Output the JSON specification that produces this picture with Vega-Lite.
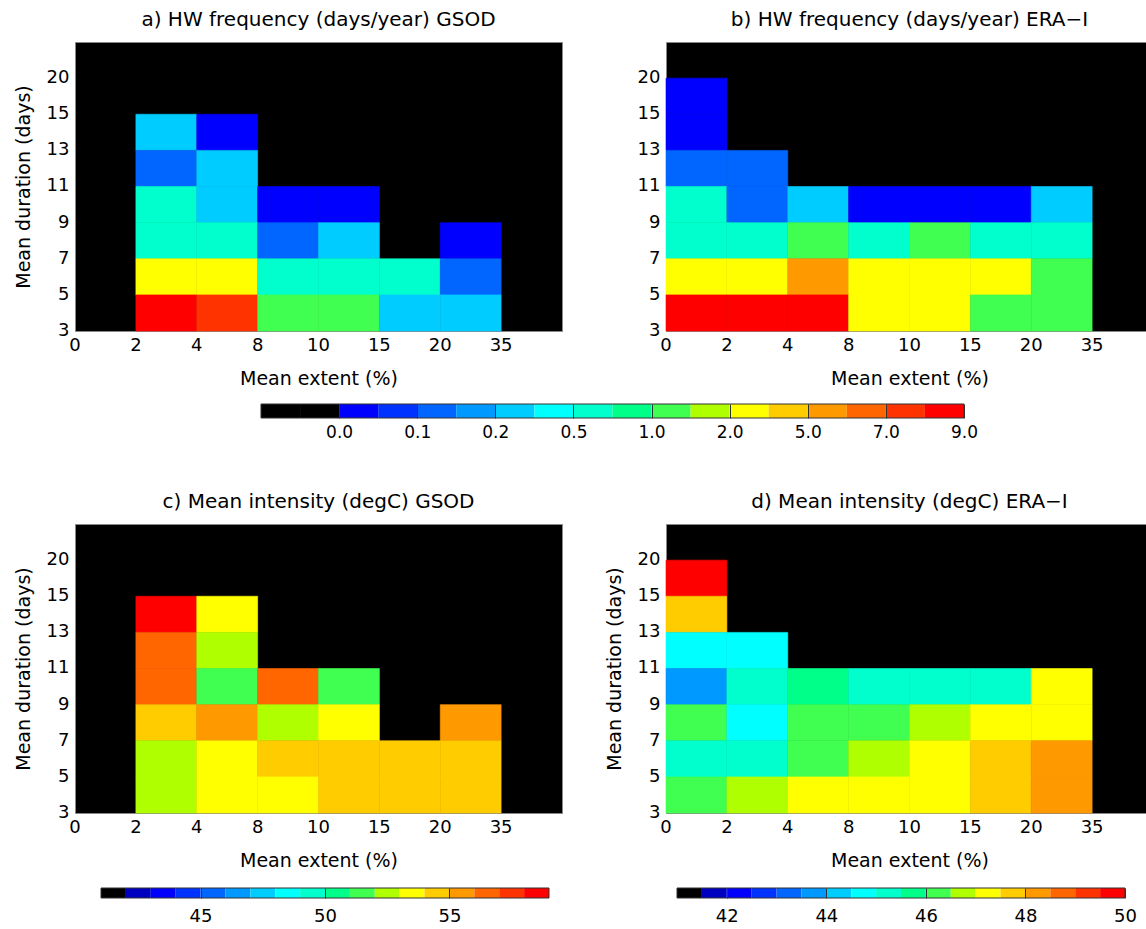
{
  "$schema": "https://vega.github.io/schema/vega-lite/v6.json",
  "padding": {"left": 13, "top": 9, "right": 0, "bottom": 0},
  "config": {
    "font": "DejaVu Sans",
    "view": {"stroke": null},
    "title": {"fontSize": 20, "fontWeight": "normal", "offset": 12, "color": "black"},
    "axis": {"labelFontSize": 18, "titleFontSize": 19, "titleFontWeight": "normal", "labelColor": "black", "titleColor": "black", "ticks": false, "domain": false, "grid": false}
  },
  "datasets": {
    "cells": [
      {"p":"a","ext":2,"dur":13,"v":0.3},{"p":"a","ext":4,"dur":13,"v":0.03},
      {"p":"a","ext":2,"dur":11,"v":0.12},{"p":"a","ext":4,"dur":11,"v":0.3},
      {"p":"a","ext":2,"dur":9,"v":0.6},{"p":"a","ext":4,"dur":9,"v":0.3},{"p":"a","ext":8,"dur":9,"v":0.03},{"p":"a","ext":10,"dur":9,"v":0.03},
      {"p":"a","ext":2,"dur":7,"v":0.6},{"p":"a","ext":4,"dur":7,"v":0.6},{"p":"a","ext":8,"dur":7,"v":0.12},{"p":"a","ext":10,"dur":7,"v":0.3},{"p":"a","ext":20,"dur":7,"v":0.03},
      {"p":"a","ext":2,"dur":5,"v":3.0},{"p":"a","ext":4,"dur":5,"v":3.0},{"p":"a","ext":8,"dur":5,"v":0.6},{"p":"a","ext":10,"dur":5,"v":0.6},{"p":"a","ext":15,"dur":5,"v":0.6},{"p":"a","ext":20,"dur":5,"v":0.12},
      {"p":"a","ext":2,"dur":3,"v":8.5},{"p":"a","ext":4,"dur":3,"v":7.5},{"p":"a","ext":8,"dur":3,"v":1.2},{"p":"a","ext":10,"dur":3,"v":1.2},{"p":"a","ext":15,"dur":3,"v":0.3},{"p":"a","ext":20,"dur":3,"v":0.3},

      {"p":"b","ext":0,"dur":15,"v":0.03},{"p":"b","ext":0,"dur":13,"v":0.03},
      {"p":"b","ext":0,"dur":11,"v":0.12},{"p":"b","ext":2,"dur":11,"v":0.12},
      {"p":"b","ext":0,"dur":9,"v":0.6},{"p":"b","ext":2,"dur":9,"v":0.12},{"p":"b","ext":4,"dur":9,"v":0.3},{"p":"b","ext":8,"dur":9,"v":0.03},{"p":"b","ext":10,"dur":9,"v":0.03},{"p":"b","ext":15,"dur":9,"v":0.03},{"p":"b","ext":20,"dur":9,"v":0.3},
      {"p":"b","ext":0,"dur":7,"v":0.6},{"p":"b","ext":2,"dur":7,"v":0.6},{"p":"b","ext":4,"dur":7,"v":1.2},{"p":"b","ext":8,"dur":7,"v":0.6},{"p":"b","ext":10,"dur":7,"v":1.2},{"p":"b","ext":15,"dur":7,"v":0.6},{"p":"b","ext":20,"dur":7,"v":0.6},
      {"p":"b","ext":0,"dur":5,"v":3.0},{"p":"b","ext":2,"dur":5,"v":3.0},{"p":"b","ext":4,"dur":5,"v":5.5},{"p":"b","ext":8,"dur":5,"v":3.0},{"p":"b","ext":10,"dur":5,"v":3.0},{"p":"b","ext":15,"dur":5,"v":3.0},{"p":"b","ext":20,"dur":5,"v":1.2},
      {"p":"b","ext":0,"dur":3,"v":8.5},{"p":"b","ext":2,"dur":3,"v":8.5},{"p":"b","ext":4,"dur":3,"v":8.5},{"p":"b","ext":8,"dur":3,"v":3.0},{"p":"b","ext":10,"dur":3,"v":3.0},{"p":"b","ext":15,"dur":3,"v":1.2},{"p":"b","ext":20,"dur":3,"v":1.2},

      {"p":"c","ext":2,"dur":13,"v":58.5},{"p":"c","ext":4,"dur":13,"v":53.5},
      {"p":"c","ext":2,"dur":11,"v":56.5},{"p":"c","ext":4,"dur":11,"v":52.5},
      {"p":"c","ext":2,"dur":9,"v":56.5},{"p":"c","ext":4,"dur":9,"v":51.5},{"p":"c","ext":8,"dur":9,"v":56.5},{"p":"c","ext":10,"dur":9,"v":51.5},
      {"p":"c","ext":2,"dur":7,"v":54.5},{"p":"c","ext":4,"dur":7,"v":55.5},{"p":"c","ext":8,"dur":7,"v":52.5},{"p":"c","ext":10,"dur":7,"v":53.5},{"p":"c","ext":20,"dur":7,"v":55.5},
      {"p":"c","ext":2,"dur":5,"v":52.5},{"p":"c","ext":4,"dur":5,"v":53.5},{"p":"c","ext":8,"dur":5,"v":54.5},{"p":"c","ext":10,"dur":5,"v":54.5},{"p":"c","ext":15,"dur":5,"v":54.5},{"p":"c","ext":20,"dur":5,"v":54.5},
      {"p":"c","ext":2,"dur":3,"v":52.5},{"p":"c","ext":4,"dur":3,"v":53.5},{"p":"c","ext":8,"dur":3,"v":53.5},{"p":"c","ext":10,"dur":3,"v":54.5},{"p":"c","ext":15,"dur":3,"v":54.5},{"p":"c","ext":20,"dur":3,"v":54.5},

      {"p":"d","ext":0,"dur":15,"v":49.75},{"p":"d","ext":0,"dur":13,"v":47.75},
      {"p":"d","ext":0,"dur":11,"v":44.75},{"p":"d","ext":2,"dur":11,"v":44.75},
      {"p":"d","ext":0,"dur":9,"v":43.75},{"p":"d","ext":2,"dur":9,"v":45.25},{"p":"d","ext":4,"dur":9,"v":45.75},{"p":"d","ext":8,"dur":9,"v":45.25},{"p":"d","ext":10,"dur":9,"v":45.25},{"p":"d","ext":15,"dur":9,"v":45.25},{"p":"d","ext":20,"dur":9,"v":47.25},
      {"p":"d","ext":0,"dur":7,"v":46.25},{"p":"d","ext":2,"dur":7,"v":44.75},{"p":"d","ext":4,"dur":7,"v":46.25},{"p":"d","ext":8,"dur":7,"v":46.25},{"p":"d","ext":10,"dur":7,"v":46.75},{"p":"d","ext":15,"dur":7,"v":47.25},{"p":"d","ext":20,"dur":7,"v":47.25},
      {"p":"d","ext":0,"dur":5,"v":45.25},{"p":"d","ext":2,"dur":5,"v":45.25},{"p":"d","ext":4,"dur":5,"v":46.25},{"p":"d","ext":8,"dur":5,"v":46.75},{"p":"d","ext":10,"dur":5,"v":47.25},{"p":"d","ext":15,"dur":5,"v":47.75},{"p":"d","ext":20,"dur":5,"v":48.25},
      {"p":"d","ext":0,"dur":3,"v":46.25},{"p":"d","ext":2,"dur":3,"v":46.75},{"p":"d","ext":4,"dur":3,"v":47.25},{"p":"d","ext":8,"dur":3,"v":47.25},{"p":"d","ext":10,"dur":3,"v":47.25},{"p":"d","ext":15,"dur":3,"v":47.75},{"p":"d","ext":20,"dur":3,"v":48.25}
    ],
    "segs": [
      {"i":0,"j":1},{"i":1,"j":2},{"i":2,"j":3},{"i":3,"j":4},{"i":4,"j":5},{"i":5,"j":6},
      {"i":6,"j":7},{"i":7,"j":8},{"i":8,"j":9},{"i":9,"j":10},{"i":10,"j":11},{"i":11,"j":12},
      {"i":12,"j":13},{"i":13,"j":14},{"i":14,"j":15},{"i":15,"j":16},{"i":16,"j":17},{"i":17,"j":18}
    ]
  },
  "resolve": {"scale": {"x": "independent", "y": "independent", "color": "independent"}},
  "spacing": 51,
  "vconcat": [
    {
      "spacing": 14,
      "resolve": {"scale": {"x": "independent", "y": "independent", "color": "independent"}},
      "vconcat": [
        {
          "spacing": 73,
          "resolve": {"scale": {"x": "independent", "y": "independent", "color": "independent", "stroke": "independent"}},
          "hconcat": [
            {
              "width": 487, "height": 289,
              "view": {"fill": "black", "stroke": "#888"},
              "title": "a) HW frequency (days/year) GSOD",
              "data": {"name": "cells"},
              "transform": [{"filter": "datum.p == 'a'"}],
              "mark": {"type": "rect", "strokeWidth": 0.6},
              "encoding": {
                "x": {"field": "ext", "type": "ordinal", "scale": {"domain": [0,2,4,8,10,15,20,35], "paddingInner": 0, "paddingOuter": 0}, "axis": {"title": "Mean extent (%)", "labelAngle": 0, "labelOffset": -30.44, "labelPadding": 5, "titlePadding": 15}},
                "y": {"field": "dur", "type": "ordinal", "scale": {"domain": [20,15,13,11,9,7,5,3], "paddingInner": 0, "paddingOuter": 0}, "axis": {"title": "Mean duration (days)", "labelOffset": 18.06, "labelPadding": 6, "titlePadding": 13}},
                "color": {"field": "v", "type": "quantitative", "legend": null, "scale": {"type": "threshold", "domain": [0.05,0.1,0.15,0.2,0.35,0.5,0.75,1,1.5,2,3.5,5,6,7,8], "range": ["#0000ff","#0033ff","#0066ff","#0099ff","#00ccff","#00ffff","#00ffcc","#00ff88","#40ff50","#b0ff00","#ffff00","#ffcc00","#ff9900","#ff6600","#ff3300","#ff0000"]}},
                "stroke": {"field": "v", "type": "quantitative", "legend": null, "scale": {"type": "threshold", "domain": [0.05,0.1,0.15,0.2,0.35,0.5,0.75,1,1.5,2,3.5,5,6,7,8], "range": ["#0000ff","#0033ff","#0066ff","#0099ff","#00ccff","#00ffff","#00ffcc","#00ff88","#40ff50","#b0ff00","#ffff00","#ffcc00","#ff9900","#ff6600","#ff3300","#ff0000"]}}
              }
            },
            {
              "width": 487, "height": 289,
              "view": {"fill": "black", "stroke": "#888"},
              "title": "b) HW frequency (days/year) ERA\u2212I",
              "data": {"name": "cells"},
              "transform": [{"filter": "datum.p == 'b'"}],
              "mark": {"type": "rect", "strokeWidth": 0.6},
              "encoding": {
                "x": {"field": "ext", "type": "ordinal", "scale": {"domain": [0,2,4,8,10,15,20,35], "paddingInner": 0, "paddingOuter": 0}, "axis": {"title": "Mean extent (%)", "labelAngle": 0, "labelOffset": -30.44, "labelPadding": 5, "titlePadding": 15}},
                "y": {"field": "dur", "type": "ordinal", "scale": {"domain": [20,15,13,11,9,7,5,3], "paddingInner": 0, "paddingOuter": 0}, "axis": {"title": null, "labelOffset": 18.06, "labelPadding": 6}},
                "color": {"field": "v", "type": "quantitative", "legend": null, "scale": {"type": "threshold", "domain": [0.05,0.1,0.15,0.2,0.35,0.5,0.75,1,1.5,2,3.5,5,6,7,8], "range": ["#0000ff","#0033ff","#0066ff","#0099ff","#00ccff","#00ffff","#00ffcc","#00ff88","#40ff50","#b0ff00","#ffff00","#ffcc00","#ff9900","#ff6600","#ff3300","#ff0000"]}},
                "stroke": {"field": "v", "type": "quantitative", "legend": null, "scale": {"type": "threshold", "domain": [0.05,0.1,0.15,0.2,0.35,0.5,0.75,1,1.5,2,3.5,5,6,7,8], "range": ["#0000ff","#0033ff","#0066ff","#0099ff","#00ccff","#00ffff","#00ffcc","#00ff88","#40ff50","#b0ff00","#ffff00","#ffcc00","#ff9900","#ff6600","#ff3300","#ff0000"]}}
              }
            }
          ]
        },
        {
          "width": 889, "height": 14,
          "layer": [
            {
              "data": {"name": "segs"},
              "mark": {"type": "rect"},
              "encoding": {
                "x": {"field": "i", "type": "quantitative", "scale": {"domain": [-4.762, 18], "nice": false, "zero": false}, "axis": {"title": null, "values": [2,4,6,8,10,12,14,16,18], "labelExpr": "['0.0','0.1','0.2','0.5','1.0','2.0','5.0','7.0','9.0'][datum.value/2-1]", "grid": true, "gridColor": "#333", "gridWidth": 1, "zindex": 1, "labelPadding": 6, "labelFontSize": 17, "labelFlush": false, "labelOverlap": false}},
                "x2": {"field": "j"},
                "color": {"field": "i", "type": "quantitative", "legend": null, "scale": {"type": "threshold", "domain": [1,2,3,4,5,6,7,8,9,10,11,12,13,14,15,16,17], "range": ["#000000","#000000","#0000ff","#0033ff","#0066ff","#0099ff","#00ccff","#00ffff","#00ffcc","#00ff88","#40ff50","#b0ff00","#ffff00","#ffcc00","#ff9900","#ff6600","#ff3300","#ff0000"]}}
              }
            },
            {
              "data": {"values": [{}]},
              "mark": {"type": "rect", "fillOpacity": 0, "stroke": "#333", "strokeWidth": 1},
              "encoding": {"x": {"datum": 0}, "x2": {"datum": 18}}
            }
          ]
        }
      ]
    },
    {
      "spacing": 16,
      "resolve": {"scale": {"x": "independent", "y": "independent", "color": "independent"}},
      "vconcat": [
        {
          "spacing": 41,
          "resolve": {"scale": {"x": "independent", "y": "independent", "color": "independent", "stroke": "independent"}},
          "hconcat": [
            {
              "width": 487, "height": 289,
              "view": {"fill": "black", "stroke": "#888"},
              "title": "c) Mean intensity (degC) GSOD",
              "data": {"name": "cells"},
              "transform": [{"filter": "datum.p == 'c'"}],
              "mark": {"type": "rect", "strokeWidth": 0.6},
              "encoding": {
                "x": {"field": "ext", "type": "ordinal", "scale": {"domain": [0,2,4,8,10,15,20,35], "paddingInner": 0, "paddingOuter": 0}, "axis": {"title": "Mean extent (%)", "labelAngle": 0, "labelOffset": -30.44, "labelPadding": 5, "titlePadding": 15}},
                "y": {"field": "dur", "type": "ordinal", "scale": {"domain": [20,15,13,11,9,7,5,3], "paddingInner": 0, "paddingOuter": 0}, "axis": {"title": "Mean duration (days)", "labelOffset": 18.06, "labelPadding": 6, "titlePadding": 13}},
                "color": {"field": "v", "type": "quantitative", "legend": null, "scale": {"type": "threshold", "domain": [43,44,45,46,47,48,49,50,51,52,53,54,55,56,57,58], "range": ["#0000c0","#0000ff","#0033ff","#0066ff","#0099ff","#00ccff","#00ffff","#00ffcc","#00ff88","#40ff50","#b0ff00","#ffff00","#ffcc00","#ff9900","#ff6600","#ff3300","#ff0000"]}},
                "stroke": {"field": "v", "type": "quantitative", "legend": null, "scale": {"type": "threshold", "domain": [43,44,45,46,47,48,49,50,51,52,53,54,55,56,57,58], "range": ["#0000c0","#0000ff","#0033ff","#0066ff","#0099ff","#00ccff","#00ffff","#00ffcc","#00ff88","#40ff50","#b0ff00","#ffff00","#ffcc00","#ff9900","#ff6600","#ff3300","#ff0000"]}}
              }
            },
            {
              "width": 487, "height": 289,
              "view": {"fill": "black", "stroke": "#888"},
              "title": "d) Mean intensity (degC) ERA\u2212I",
              "data": {"name": "cells"},
              "transform": [{"filter": "datum.p == 'd'"}],
              "mark": {"type": "rect", "strokeWidth": 0.6},
              "encoding": {
                "x": {"field": "ext", "type": "ordinal", "scale": {"domain": [0,2,4,8,10,15,20,35], "paddingInner": 0, "paddingOuter": 0}, "axis": {"title": "Mean extent (%)", "labelAngle": 0, "labelOffset": -30.44, "labelPadding": 5, "titlePadding": 15}},
                "y": {"field": "dur", "type": "ordinal", "scale": {"domain": [20,15,13,11,9,7,5,3], "paddingInner": 0, "paddingOuter": 0}, "axis": {"title": "Mean duration (days)", "labelOffset": 18.06, "labelPadding": 6, "titlePadding": 13}},
                "color": {"field": "v", "type": "quantitative", "legend": null, "scale": {"type": "threshold", "domain": [42,42.5,43,43.5,44,44.5,45,45.5,46,46.5,47,47.5,48,48.5,49,49.5], "range": ["#0000c0","#0000ff","#0033ff","#0066ff","#0099ff","#00ccff","#00ffff","#00ffcc","#00ff88","#40ff50","#b0ff00","#ffff00","#ffcc00","#ff9900","#ff6600","#ff3300","#ff0000"]}},
                "stroke": {"field": "v", "type": "quantitative", "legend": null, "scale": {"type": "threshold", "domain": [42,42.5,43,43.5,44,44.5,45,45.5,46,46.5,47,47.5,48,48.5,49,49.5], "range": ["#0000c0","#0000ff","#0033ff","#0066ff","#0099ff","#00ccff","#00ffff","#00ffcc","#00ff88","#40ff50","#b0ff00","#ffff00","#ffcc00","#ff9900","#ff6600","#ff3300","#ff0000"]}}
              }
            }
          ]
        },
        {
          "spacing": 126,
          "resolve": {"scale": {"x": "independent", "y": "independent", "color": "independent"}},
          "hconcat": [
            {
              "width": 474, "height": 10,
              "layer": [
                {
                  "data": {"name": "segs"},
                  "mark": {"type": "rect"},
                  "encoding": {
                    "x": {"field": "i", "type": "quantitative", "scale": {"domain": [-1.045, 18], "nice": false, "zero": false}, "axis": {"title": null, "values": [4,9,14], "labelExpr": "datum.value + 41", "grid": true, "gridColor": "#333", "gridWidth": 1, "zindex": 1, "labelPadding": 9, "labelFontSize": 18, "labelFlush": false, "labelOverlap": false}},
                    "x2": {"field": "j"},
                    "color": {"field": "i", "type": "quantitative", "legend": null, "scale": {"type": "threshold", "domain": [1,2,3,4,5,6,7,8,9,10,11,12,13,14,15,16,17], "range": ["#000000","#0000c0","#0000ff","#0033ff","#0066ff","#0099ff","#00ccff","#00ffff","#00ffcc","#00ff88","#40ff50","#b0ff00","#ffff00","#ffcc00","#ff9900","#ff6600","#ff3300","#ff0000"]}}
                  }
                },
                {
                  "data": {"values": [{}]},
                  "mark": {"type": "rect", "fillOpacity": 0, "stroke": "#333", "strokeWidth": 1},
                  "encoding": {"x": {"datum": 0}, "x2": {"datum": 18}}
                }
              ]
            },
            {
              "width": 448, "height": 10,
              "layer": [
                {
                  "data": {"name": "segs"},
                  "mark": {"type": "rect"},
                  "encoding": {
                    "x": {"field": "i", "type": "quantitative", "scale": {"domain": [0, 18], "nice": false, "zero": false}, "axis": {"title": null, "values": [2,6,10,14,18], "labelExpr": "41 + datum.value/2", "grid": true, "gridColor": "#333", "gridWidth": 1, "zindex": 1, "labelPadding": 9, "labelFontSize": 18, "labelFlush": false, "labelOverlap": false}},
                    "x2": {"field": "j"},
                    "color": {"field": "i", "type": "quantitative", "legend": null, "scale": {"type": "threshold", "domain": [1,2,3,4,5,6,7,8,9,10,11,12,13,14,15,16,17], "range": ["#000000","#0000c0","#0000ff","#0033ff","#0066ff","#0099ff","#00ccff","#00ffff","#00ffcc","#00ff88","#40ff50","#b0ff00","#ffff00","#ffcc00","#ff9900","#ff6600","#ff3300","#ff0000"]}}
                  }
                },
                {
                  "data": {"values": [{}]},
                  "mark": {"type": "rect", "fillOpacity": 0, "stroke": "#333", "strokeWidth": 1},
                  "encoding": {"x": {"datum": 0}, "x2": {"datum": 18}}
                }
              ]
            }
          ]
        }
      ]
    }
  ]
}
